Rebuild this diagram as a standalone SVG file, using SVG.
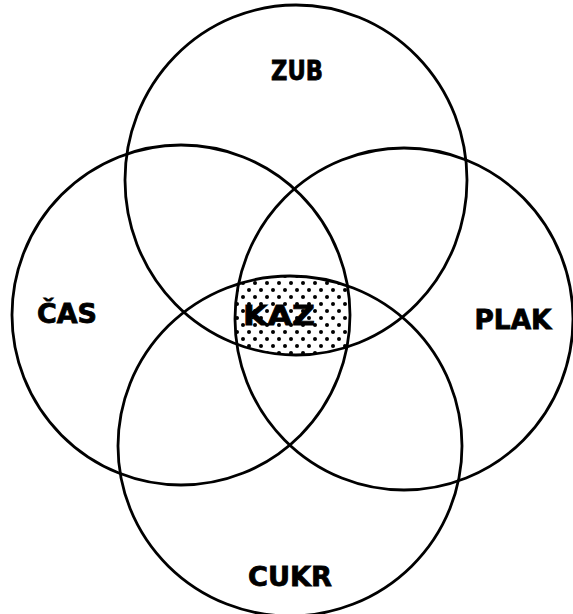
<svg xmlns="http://www.w3.org/2000/svg" width="573" height="614" viewBox="0 0 573 614">
<style>
.c{fill:none;stroke:#000;stroke-width:2.8}
.t{font-family:"DejaVu Sans","Liberation Sans",sans-serif;font-weight:bold;font-size:26px;fill:#000;stroke:#000;stroke-width:0.8;text-anchor:middle}
</style>
<defs>
<pattern id="dots" width="12" height="14" patternUnits="userSpaceOnUse">
<circle cx="3" cy="3" r="2" fill="#000"/>
<circle cx="9" cy="10" r="2" fill="#000"/>
</pattern>
<clipPath id="cT"><ellipse cx="296" cy="180" rx="171" ry="175"/></clipPath>
<clipPath id="cL"><ellipse cx="181" cy="315" rx="169" ry="170"/></clipPath>
<clipPath id="cR"><ellipse cx="404" cy="319" rx="169" ry="171"/></clipPath>
<clipPath id="cB"><ellipse cx="290" cy="446" rx="172" ry="170"/></clipPath>
</defs>
<rect width="573" height="614" fill="#fff"/>
<g id="kaz-fill" clip-path="url(#cT)"><g clip-path="url(#cL)"><g clip-path="url(#cR)"><g clip-path="url(#cB)">
<rect x="200" y="250" width="180" height="130" fill="url(#dots)"/>
</g></g></g></g>
<g id="zub"><ellipse class="c" cx="296" cy="180" rx="171" ry="175"/><text class="t" x="297" y="80" textLength="52" lengthAdjust="spacingAndGlyphs">ZUB</text></g>
<g id="cas"><ellipse class="c" cx="181" cy="315" rx="169" ry="170"/><text class="t" x="67" y="323" textLength="60" lengthAdjust="spacingAndGlyphs">ČAS</text></g>
<g id="plak"><ellipse class="c" cx="404" cy="319" rx="169" ry="171"/><text class="t" x="513" y="329" textLength="77" lengthAdjust="spacingAndGlyphs">PLAK</text></g>
<g id="cukr"><ellipse class="c" cx="290" cy="446" rx="172" ry="170"/><text class="t" x="290" y="586" textLength="84" lengthAdjust="spacingAndGlyphs">CUKR</text></g>
<g id="kaz"><text class="t" x="279" y="325" textLength="72" lengthAdjust="spacingAndGlyphs">KAZ</text></g>
<g id="connectors"/>
</svg>
